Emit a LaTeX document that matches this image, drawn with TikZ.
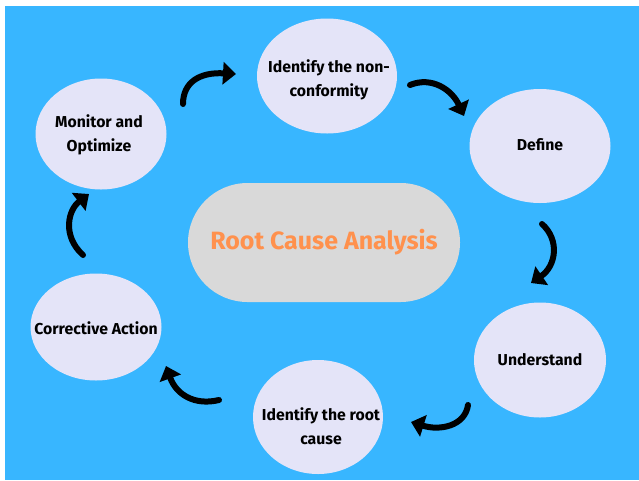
\documentclass[tikz,border=0pt]{standalone}
\usepackage{fontspec}
\setmainfont{Fira Sans}
\usetikzlibrary{shapes.geometric,arrows.meta}
\definecolor{bgblue}{HTML}{38B6FF}
\definecolor{bubble}{HTML}{E4E4F8}
\definecolor{pill}{HTML}{D9D9D9}
\definecolor{rcaorange}{HTML}{FF914D}
\tikzset{
  stepfont/.style={font=\bfseries\fontsize{15.8}{24}\selectfont},
  stepnode/.style={ellipse, fill=bubble, inner sep=0pt},
  steptext/.style={align=center, stepfont, text=black, inner sep=0pt},
  cyclearrow/.style={line width=6pt, line cap=round,
    -{Triangle[length=13pt,width=22pt]}, black},
}
\begin{document}
\begin{tikzpicture}[x=1pt,y=-1pt]
\useasboundingbox (0,0) rectangle (639,480);
\fill[white] (0,0) rectangle (639,480);
\fill[bgblue] (5,6) rectangle (639,480);

\node[fill=pill, rounded corners=59.5pt, minimum width=272pt, minimum height=119pt,
  inner sep=0pt, text=rcaorange, font=\bfseries\fontsize{25}{30}\selectfont]
  (rca) at (324,242.5) {Root Cause Analysis};

\node[stepnode, minimum width=140pt, minimum height=115pt] (nc) at (327,76) {};
\node[steptext] (nct) at (329,80) {Identify the non-\\conformity};

\node[stepnode, minimum width=141pt, minimum height=114pt] (def) at (540,146) {};
\node[steptext] (deft) at (540,145) {Define};

\node[stepnode, minimum width=132pt, minimum height=115pt] (und) at (540,360) {};
\node[steptext] (undt) at (540,360) {Understand};

\node[stepnode, minimum width=130pt, minimum height=114pt] (rootc) at (318,417) {};
\node[steptext] (rootct) at (321,426) {Identify the root\\cause};

\node[stepnode, minimum width=131pt, minimum height=107pt] (corr) at (96,327) {};
\node[steptext] (corrt) at (96,328) {Corrective Action};

\node[stepnode, minimum width=131pt, minimum height=111pt] (mon) at (101,134) {};
\node[steptext] (mont) at (99,135) {Monitor and\\Optimize};

\coordinate (a1s) at (183,104); \coordinate (a1e) at (236,74);
\coordinate (a2s) at (410,85);  \coordinate (a2e) at (464,116);
\coordinate (a3s) at (542,224); \coordinate (a3e) at (531,283);
\coordinate (a4s) at (468,405); \coordinate (a4e) at (411,422);
\coordinate (a5s) at (219,400); \coordinate (a5e) at (166,366);
\coordinate (a6s) at (83,255);  \coordinate (a6e) at (89,194);

\draw[cyclearrow] (a1s) .. controls (183,82) and (200,72) .. (a1e);
\draw[cyclearrow] (a2s) .. controls (432,76) and (452,90) .. (a2e);
\draw[cyclearrow] (a3s) .. controls (560,240) and (556,266) .. (a3e);
\draw[cyclearrow] (a4s) .. controls (465,426) and (440,431) .. (a4e);
\draw[cyclearrow] (a5s) .. controls (194,406) and (176,394) .. (a5e);
\draw[cyclearrow] (a6s) .. controls (62,236) and (68,210) .. (a6e);
\end{tikzpicture}
\end{document}
